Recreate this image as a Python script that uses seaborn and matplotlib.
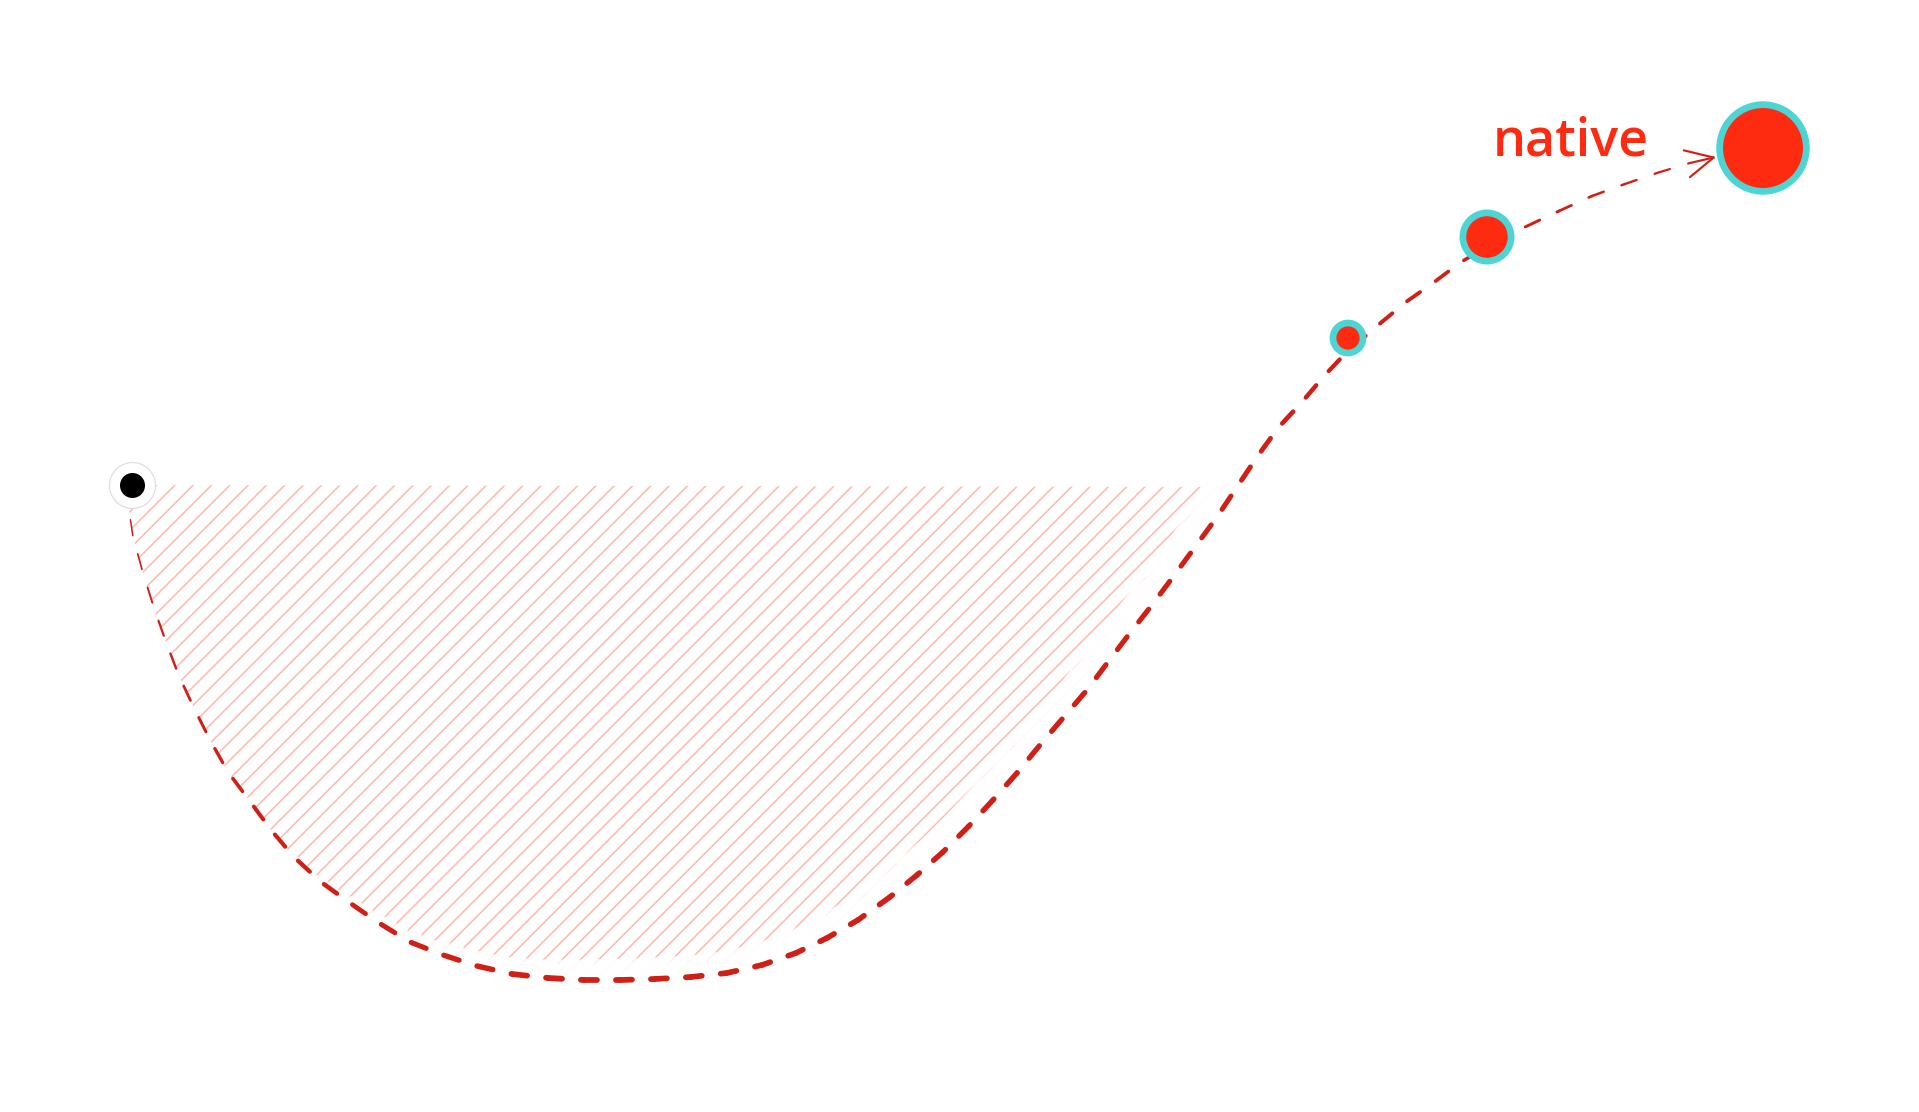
import numpy as np
import pandas as pd
import matplotlib.pyplot as plt
import seaborn as sns

# path (same frame as the 1920x1112 image, y grows downward)
path_x = [132, 129, 133, 143, 154, 166, 179, 194, 210, 228, 249, 271, 294, 321, 350,
          379, 410, 443, 477, 512, 548, 584, 620, 655, 691, 727, 762, 796, 827, 858,
          890, 917, 943, 968, 993, 1017, 1040, 1063, 1087, 1108, 1130, 1152, 1173, 1195,
          1217, 1237, 1257, 1278, 1302, 1325, 1343, 1361, 1377, 1406, 1433, 1461, 1487,
          1525, 1559, 1592, 1625, 1660, 1690]
path_y = [485, 510, 537, 573, 608, 642, 676, 708, 740, 772, 800, 830, 857, 882, 903,
          923, 942, 955, 966, 974, 978, 980, 980, 979, 977, 973, 965, 953, 938, 920,
          897, 875, 852, 827, 800, 773, 745, 718, 690, 662, 633, 605, 577, 547,
          517, 487, 457, 428, 402, 375, 356, 340, 326, 302, 283, 262, 247,
          227, 211, 196, 184, 172, 163]
baseline_y = 485

start_x, start_y = 132, 485

bubble_x = [1348, 1487, 1763]
bubble_y = [338, 237, 148]
bubble_w = [12, 31, 100]

label = "native"
arrow_to = (1716, 157)

RED = "#ff2b10"
LINE_RED = "#d01f16"
TEAL = "#4dd4d5"
HATCH = "#ffb8ab"

DPI = 110
sns.set_theme(style="white")
plt.rcParams["lines.scale_dashes"] = False
plt.rcParams["hatch.color"] = HATCH
plt.rcParams["hatch.linewidth"] = 1.0

fig = plt.figure(figsize=(1920 / DPI, 1112 / DPI), dpi=DPI)
fig.set_facecolor("white")
ax = fig.add_axes([0, 0, 1, 1])
px2pt = 72 / DPI

x = np.array(path_x, dtype=float)
y = np.array(path_y, dtype=float)

# hatched area between the start level and the dip
n_fill = 46
hx = list(x[:n_fill]) + [x[0]]
hy = list(y[:n_fill]) + [baseline_y]
ax.fill(hx, hy, facecolor="none", edgecolor=HATCH, hatch="//", linewidth=0, zorder=1)

# line width and white halo change along the path
mid_x = (x[:-1] + x[1:]) / 2
dash_px = np.interp(mid_x, [129, 160, 200, 260, 400, 550, 900, 1250, 1340, 1480, 1560, 1700],
                    [1.5, 2.2, 3.0, 4.0, 5.0, 5.8, 5.5, 5.0, 4.2, 3.5, 2.8, 2.0])
halo_px = np.interp(mid_x, [300, 450, 600, 1240, 1290], [0, 10, 18, 24, 0])

seg_len = np.hypot(np.diff(x), np.diff(y))
cum = np.concatenate([[0], np.cumsum(seg_len)])
on_pt, off_pt = 16 * px2pt, 19 * px2pt
period = on_pt + off_pt

for i in range(len(x) - 1):
    if halo_px[i] > 0:
        ax.plot(x[i:i + 2], y[i:i + 2], color="white", alpha=0.8,
                lw=(2 * halo_px[i] + dash_px[i]) * px2pt, solid_capstyle="round", zorder=2)

for i in range(len(x) - 1):
    off = (cum[i] * px2pt) % period
    ax.plot(x[i:i + 2], y[i:i + 2], color=LINE_RED, lw=dash_px[i] * px2pt,
            linestyle=(off, (on_pt, off_pt)), dash_capstyle="round", zorder=3)

ax.annotate("", xy=arrow_to, xytext=(x[-1], y[-1]),
            arrowprops=dict(arrowstyle="->,head_length=0.9,head_width=0.45",
                            color=LINE_RED, lw=1.4, mutation_scale=20,
                            shrinkA=0, shrinkB=0), zorder=4)

# start point
sns.scatterplot(x=[start_x], y=[start_y], s=906, color="white", edgecolor="#dedede",
                linewidth=0.8, legend=False, zorder=5, ax=ax)
sns.scatterplot(x=[start_x], y=[start_y], s=268, color="black", linewidth=0,
                legend=False, zorder=6, ax=ax)

# bubbles
bubbles = pd.DataFrame({"x": bubble_x, "y": bubble_y, "w": bubble_w})
sns.scatterplot(data=bubbles, x="x", y="y", size="w", sizes=(385, 3220),
                size_norm=(min(bubble_w), max(bubble_w)), color=RED, edgecolor=TEAL,
                linewidth=4.4, legend=False, zorder=6, ax=ax)

ax.text(1493, 155, label, fontsize=34, color=RED, fontfamily="Open Sans",
        fontweight="semibold", va="baseline", ha="left", zorder=7)

ax.set_xlim(0, 1920)
ax.set_ylim(1112, 0)
ax.axis("off")

fig.savefig("out.png", dpi=DPI, facecolor="white")
